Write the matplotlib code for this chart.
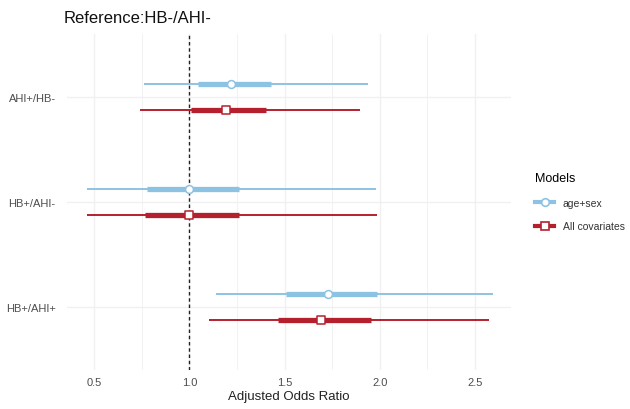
import numpy as np
import matplotlib
matplotlib.use("Agg")
import matplotlib.pyplot as plt
from matplotlib.lines import Line2D

plt.rcParams["font.family"] = ["Liberation Sans", "DejaVu Sans"]

# ── data ──────────────────────────────────────────────────────────────────────
categories = ["AHI+/HB-", "HB+/AHI-", "HB+/AHI+"]
models = ["age+sex", "All covariates"]

# age+sex model
base_or   = [1.22, 0.995, 1.728]
base_lo95 = [0.759, 0.461, 1.141]
base_hi95 = [1.937, 1.979, 2.597]
base_lo50 = [1.047, 0.775, 1.508]
base_hi50 = [1.429, 1.262, 1.984]

# all-covariates model
full_or   = [1.194, 0.995, 1.691]
full_lo95 = [0.738, 0.461, 1.105]
full_hi95 = [1.895, 1.984, 2.576]
full_lo50 = [1.010, 0.764, 1.466]
full_hi50 = [1.403, 1.262, 1.953]

# ── style ─────────────────────────────────────────────────────────────────────
C_BASE = "#8DC3E2"
C_FULL = "#B5202E"
GRID = "#F0F0F0"

fig = plt.figure(figsize=(6.3, 4.1), dpi=100)
ax = fig.add_axes([0.106, 0.095, 0.705, 0.82])

y_pos = np.arange(len(categories))[::-1] + 1.0   # top to bottom
dodge = 0.124

series = [
    (base_or, base_lo95, base_hi95, base_lo50, base_hi50, C_BASE, "o", +dodge, 32),
    (full_or, full_lo95, full_hi95, full_lo50, full_hi50, C_FULL, "s", -dodge, 28),
]

for est, lo95, hi95, lo50, hi50, col, mk, off, sz in series:
    yy = y_pos + off
    ax.hlines(yy, lo95, hi95, color=col, linewidth=1.4, zorder=3)
    ax.hlines(yy, lo50, hi50, color=col, linewidth=3.8, zorder=4)
    ax.scatter(est, yy, marker=mk, s=sz, facecolor="white", edgecolor=col,
               linewidth=1.1, zorder=5)

ax.axvline(1.0, color="#222222", linestyle=(0, (2.5, 2)), linewidth=1.0, zorder=2)

# ── axes ──────────────────────────────────────────────────────────────────────
ax.set_xlim(0.355, 2.69)
ax.set_ylim(0.4, 3.6)
ax.set_xticks([0.5, 1.0, 1.5, 2.0, 2.5])
ax.set_xticks([0.75, 1.25, 1.75, 2.25], minor=True)
ax.set_yticks(y_pos)
ax.set_yticklabels(categories)
ax.tick_params(axis="both", which="both", length=0, labelsize=8, colors="#4D4D4D")
ax.tick_params(axis="x", pad=5)
ax.tick_params(axis="y", pad=8)
ax.grid(True, which="major", color=GRID, linewidth=1.0, zorder=0)
ax.grid(True, which="minor", axis="x", color=GRID, linewidth=0.6, zorder=0)
ax.set_axisbelow(True)
for sp in ax.spines.values():
    sp.set_visible(False)

ax.set_xlabel("Adjusted Odds Ratio", fontsize=9.5, color="#222222", labelpad=2)
fig.text(0.101, 0.955, "Reference:HB-/AHI-", fontsize=12, color="#111111",
         ha="left", va="center")

# ── legend ────────────────────────────────────────────────────────────────────
handles = [
    Line2D([], [], color=C_BASE, linewidth=3, marker="o", markersize=5.5,
           markerfacecolor="white", markeredgecolor=C_BASE, markeredgewidth=1.2),
    Line2D([], [], color=C_FULL, linewidth=3, marker="s", markersize=5.5,
           markerfacecolor="white", markeredgecolor=C_FULL, markeredgewidth=1.2),
]
leg = fig.legend(handles, models, title="Models", loc="center left",
                 bbox_to_anchor=(0.835, 0.505), frameon=False, fontsize=7.5,
                 title_fontsize=9, handlelength=1.8, handletextpad=0.8,
                 labelspacing=1.3, alignment="left")
for t in leg.get_texts():
    t.set_color("#333333")

fig.savefig("out.png", dpi=100)
